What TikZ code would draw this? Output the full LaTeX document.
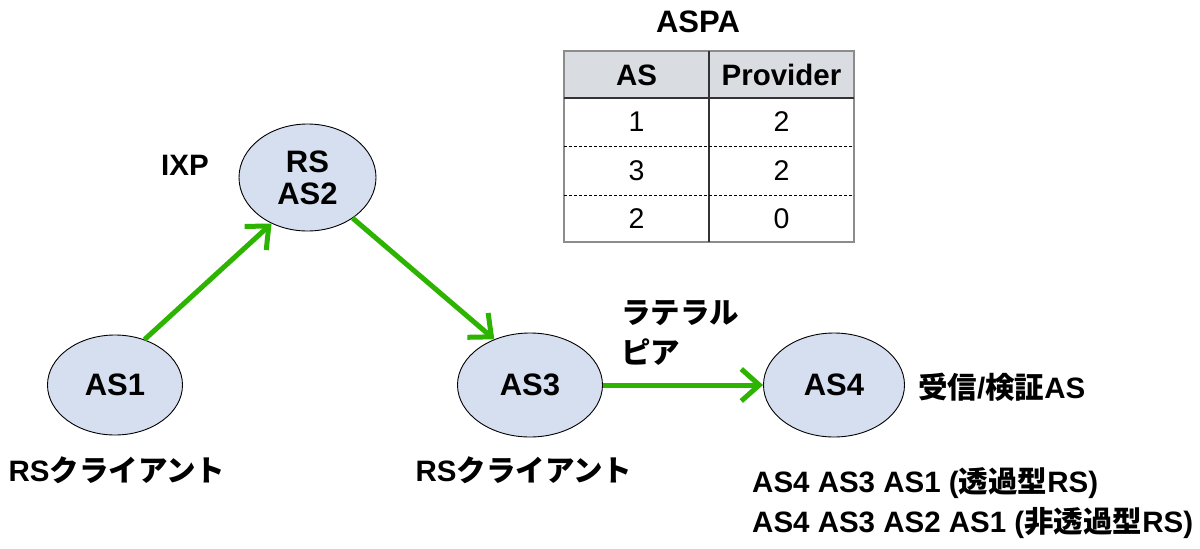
\documentclass[tikz,border=0pt]{standalone}
\usepackage{fontspec}
\setmainfont{Liberation Sans}
\newfontfamily\jp{Noto Sans CJK JP}
\usetikzlibrary{shapes.geometric,arrows.meta}
\definecolor{nodefill}{HTML}{D6DFEF}
\definecolor{arrowgreen}{HTML}{2DB400}
\definecolor{headfill}{HTML}{D9DCE1}
\definecolor{tablegray}{HTML}{8C8C8C}
\tikzset{
  asnode/.style={ellipse, draw=black, line width=0.9pt, fill=nodefill, minimum width=#1, font=\fontsize{31}{35}\selectfont\bfseries, align=center, inner sep=0pt},
  flow/.style={draw=arrowgreen, line width=5pt, -{Straight Barb[length=18pt,width=32pt,line width=5pt]}},
  lbl/.style={font=\fontsize{29.5}{34}\selectfont\bfseries, inner sep=0pt},
  cell/.style={font=\fontsize{28.5}{33}\selectfont, inner sep=0pt},
}
\begin{document}
\begin{tikzpicture}[x=1pt,y=-1pt]
\useasboundingbox (0,0) rectangle (1200,549);
% ellipses
\node[asnode=137pt, minimum height=107pt] (as2) at (307.5,177.5) {RS\\[-3pt]AS2};
\node[asnode=135pt, minimum height=100pt] (as1) at (115,385) {AS1};
\node[asnode=145pt, minimum height=104pt] (as3) at (530,385) {AS3};
\node[asnode=141pt, minimum height=104pt] (as4) at (834,385) {AS4};
% arrows
\draw[flow] (as1.57) -- (as2.232);
\draw[flow] (as2.-42) -- (as3.128);
\draw[flow] (as3.east) -- (as4.west);
% labels
\node[lbl] (ixp) at (185,165) {IXP};
\node[lbl] (c1) at (117,470) {RS{\jp クライアント}};
\node[lbl] (c3) at (524,470) {RS{\jp クライアント}};
\node[lbl, anchor=west] (lat1) at (621,313) {\jp ラテラル};
\node[lbl, anchor=west] (lat2) at (621,352) {\jp ピア};
\node[lbl, anchor=west] (rcv) at (918,387) {{\jp 受信}/{\jp 検証}AS};
\node[lbl, anchor=west] (p1) at (752,483) {AS4 AS3 AS1 ({\jp 透過型}RS)};
\node[lbl, anchor=west] (p2) at (752,523) {AS4 AS3 AS2 AS1 ({\jp 非透過型}RS)};
% table
\node[lbl, font=\fontsize{31}{35}\selectfont\bfseries] (aspa) at (698,22) {ASPA};
\fill[headfill] (564,51) rectangle (854,98);
\draw[tablegray, line width=1.5pt] (564,51) rectangle (854,242);
\draw[black!80, line width=1.2pt] (564,98) -- (854,98);
\draw[black!80, line width=1.2pt] (709,51) -- (709,242);
\draw[black, line width=1pt, dash pattern=on 3pt off 2pt] (564,146) -- (854,146);
\draw[black, line width=1pt, dash pattern=on 3pt off 2pt] (564,195) -- (854,195);
\node[lbl] (hAS) at (636.5,75) {AS};
\node[lbl] (hPr) at (781.5,75) {Provider};
\node[cell] (r1a) at (636.5,122) {1};
\node[cell] (r1b) at (781.5,122) {2};
\node[cell] (r2a) at (636.5,171) {3};
\node[cell] (r2b) at (781.5,171) {2};
\node[cell] (r3a) at (636.5,219) {2};
\node[cell] (r3b) at (781.5,219) {0};
\end{tikzpicture}
\end{document}
